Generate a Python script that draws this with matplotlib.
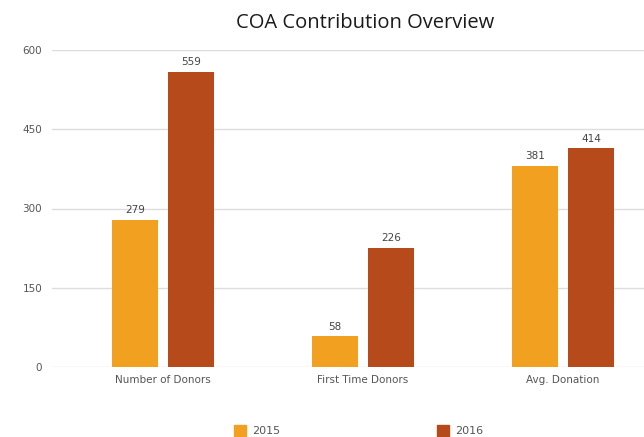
import matplotlib
matplotlib.use('Agg')
import matplotlib.pyplot as plt
import numpy as np

categories = ['Number of Donors', 'First Time Donors', 'Avg. Donation']
values_2015 = [279, 58, 381]
values_2016 = [559, 226, 414]
series_names = ['2015', '2016']
yticks = [0, 150, 300, 450, 600]

c2015 = '#F1A01F'
c2016 = '#B64A1A'
txt = '#555555'

fig = plt.figure(figsize=(6.44, 4.37), dpi=100)
ax = fig.add_axes([52/644, 1-367/437, 1-52/644, (367-50)/437])

x = np.arange(len(categories))
w = 0.23
b1 = ax.bar(x - 0.14, values_2015, w, color=c2015, label=series_names[0], zorder=3)
b2 = ax.bar(x + 0.14, values_2016, w, color=c2016, label=series_names[1], zorder=3)

for bars, vals in ((b1, values_2015), (b2, values_2016)):
    for r, v in zip(bars, vals):
        ax.text(r.get_x() + r.get_width()/2, v + 8, str(v), ha='center', va='bottom',
                fontsize=7.5, color='#444444')

ax.set_xlim(-0.555, 2.405)
ax.set_ylim(0, 600)
ax.set_yticks(yticks)
ax.set_xticks(x)
ax.set_xticklabels(categories)
ax.tick_params(length=0, labelsize=7.5, colors=txt)
ax.tick_params(axis='y', pad=7)
ax.tick_params(axis='x', pad=6)
ax.grid(axis='y', color='#dddddd', linewidth=1, zorder=0)
for s in ax.spines.values():
    s.set_visible(False)

fig.text(365/644, 1-23/437, 'COA Contribution Overview', ha='center', va='center',
         fontsize=14.5, family='Open Sans', color='#1a1a1a')

# legend, two entries spread apart
for i, (name, col) in enumerate(zip(series_names, [c2015, c2016])):
    lx = [234, 437][i] / 644
    fig.patches.append(plt.Rectangle((lx, 1-436/437), 12/644, 11/437,
                                     transform=fig.transFigure, color=col))
    fig.text(lx + 18/644, 1-431/437, name, ha='left', va='center',
             fontsize=8, color=txt)

fig.savefig('out.png', dpi=100)
